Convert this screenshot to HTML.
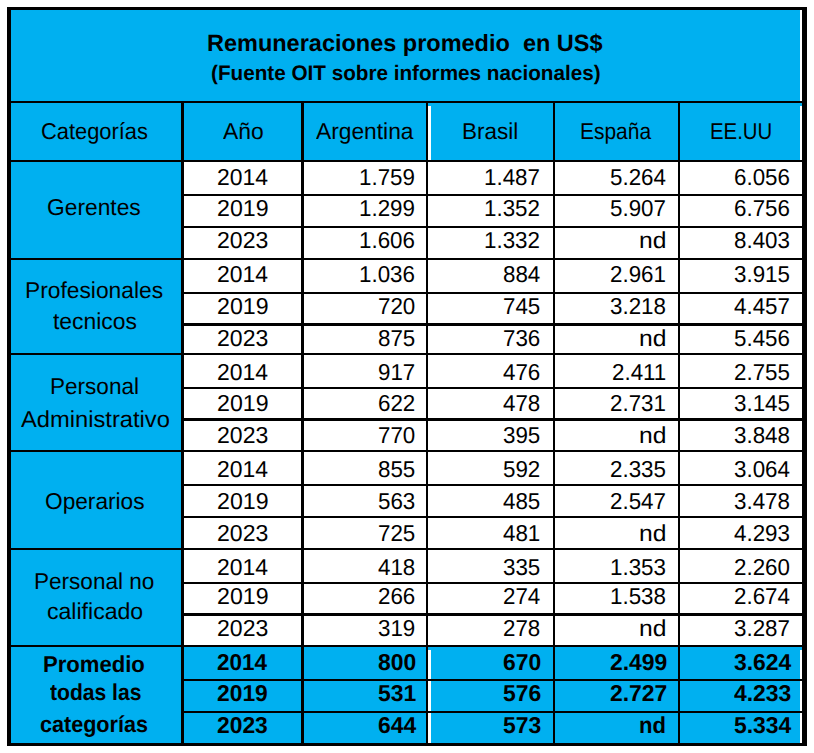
<!DOCTYPE html>
<html lang="es"><head><meta charset="utf-8"><title>Remuneraciones promedio en US$</title>
<style>
html,body{margin:0;padding:0;background:#fff;}
#page{position:relative;width:814px;height:753px;overflow:hidden;background:#fff;font-family:"Liberation Sans",sans-serif;color:#000;}
.r{position:absolute;}
.t{position:absolute;white-space:pre;line-height:30px;transform-origin:0 0;text-rendering:geometricPrecision;}
</style></head><body><div id="page">
<div class="r" style="left:11px;top:10px;width:791px;height:91px;background:#00B0F0"></div>
<div class="r" style="left:800px;top:10px;width:2px;height:91px;background:#fff"></div>
<div class="r" style="left:11px;top:103px;width:791px;height:57px;background:#00B0F0"></div>
<div class="r" style="left:428px;top:106px;width:3px;height:54px;background:#fff"></div>
<div class="r" style="left:800px;top:106px;width:2px;height:54px;background:#fff"></div>
<div class="r" style="left:11px;top:162px;width:170px;height:483px;background:#00B0F0"></div>
<div class="r" style="left:11px;top:647px;width:791px;height:96px;background:#00B0F0"></div>
<div class="r" style="left:428px;top:650px;width:3px;height:93px;background:#fff"></div>
<div class="r" style="left:800px;top:650px;width:2px;height:93px;background:#fff"></div>
<div class="r" style="left:7px;top:7px;width:800px;height:3px;background:#000"></div>
<div class="r" style="left:7px;top:743px;width:800px;height:3px;background:#000"></div>
<div class="r" style="left:7px;top:7px;width:4px;height:739px;background:#000"></div>
<div class="r" style="left:802px;top:7px;width:5px;height:739px;background:#000"></div>
<div class="r" style="left:11px;top:101px;width:791px;height:2px;background:#000"></div>
<div class="r" style="left:11px;top:160px;width:791px;height:2px;background:#000"></div>
<div class="r" style="left:11px;top:258px;width:791px;height:2px;background:#000"></div>
<div class="r" style="left:11px;top:353px;width:791px;height:2px;background:#000"></div>
<div class="r" style="left:11px;top:450px;width:791px;height:2px;background:#000"></div>
<div class="r" style="left:11px;top:548px;width:791px;height:2px;background:#000"></div>
<div class="r" style="left:11px;top:645px;width:791px;height:2px;background:#000"></div>
<div class="r" style="left:181px;top:194px;width:621px;height:2px;background:#000"></div>
<div class="r" style="left:181px;top:226px;width:621px;height:2px;background:#000"></div>
<div class="r" style="left:181px;top:292px;width:621px;height:2px;background:#000"></div>
<div class="r" style="left:181px;top:323px;width:621px;height:3px;background:#000"></div>
<div class="r" style="left:181px;top:387px;width:621px;height:2px;background:#000"></div>
<div class="r" style="left:181px;top:418px;width:621px;height:3px;background:#000"></div>
<div class="r" style="left:181px;top:484px;width:621px;height:2px;background:#000"></div>
<div class="r" style="left:181px;top:516px;width:621px;height:2px;background:#000"></div>
<div class="r" style="left:181px;top:582px;width:621px;height:2px;background:#000"></div>
<div class="r" style="left:181px;top:613px;width:621px;height:3px;background:#000"></div>
<div class="r" style="left:181px;top:679px;width:621px;height:2px;background:#000"></div>
<div class="r" style="left:181px;top:711px;width:621px;height:2px;background:#000"></div>
<div class="r" style="left:181px;top:103px;width:3px;height:640px;background:#000"></div>
<div class="r" style="left:301px;top:103px;width:3px;height:640px;background:#000"></div>
<div class="r" style="left:426px;top:103px;width:2px;height:640px;background:#000"></div>
<div class="r" style="left:553px;top:103px;width:2px;height:640px;background:#000"></div>
<div class="r" style="left:678px;top:103px;width:2px;height:640px;background:#000"></div>
<div class="r" style="left:428px;top:106px;width:3px;height:54px;background:#fff"></div>
<div class="r" style="left:800px;top:106px;width:2px;height:54px;background:#fff"></div>
<div class="r" style="left:11px;top:162px;width:170px;height:483px;background:#00B0F0"></div>
<div class="r" style="left:11px;top:647px;width:791px;height:96px;background:#00B0F0"></div>
<div class="r" style="left:428px;top:650px;width:3px;height:93px;background:#fff"></div>
<div class="r" style="left:800px;top:650px;width:2px;height:93px;background:#fff"></div>
<div class="r" style="left:7px;top:7px;width:800px;height:3px;background:#000"></div>
<div class="r" style="left:7px;top:743px;width:800px;height:3px;background:#000"></div>
<div class="r" style="left:7px;top:7px;width:4px;height:739px;background:#000"></div>
<div class="r" style="left:802px;top:7px;width:5px;height:739px;background:#000"></div>
<div class="r" style="left:11px;top:101px;width:791px;height:2px;background:#000"></div>
<div class="r" style="left:11px;top:160px;width:791px;height:2px;background:#000"></div>
<div class="r" style="left:11px;top:258px;width:791px;height:2px;background:#000"></div>
<div class="r" style="left:11px;top:353px;width:791px;height:2px;background:#000"></div>
<div class="r" style="left:11px;top:450px;width:791px;height:2px;background:#000"></div>
<div class="r" style="left:11px;top:548px;width:791px;height:2px;background:#000"></div>
<div class="r" style="left:11px;top:645px;width:791px;height:2px;background:#000"></div>
<div class="r" style="left:181px;top:194px;width:621px;height:2px;background:#000"></div>
<div class="r" style="left:181px;top:226px;width:621px;height:2px;background:#000"></div>
<div class="r" style="left:181px;top:292px;width:621px;height:2px;background:#000"></div>
<div class="r" style="left:181px;top:323px;width:621px;height:3px;background:#000"></div>
<div class="r" style="left:181px;top:387px;width:621px;height:2px;background:#000"></div>
<div class="r" style="left:181px;top:418px;width:621px;height:3px;background:#000"></div>
<div class="r" style="left:181px;top:484px;width:621px;height:2px;background:#000"></div>
<div class="r" style="left:181px;top:516px;width:621px;height:2px;background:#000"></div>
<div class="r" style="left:181px;top:582px;width:621px;height:2px;background:#000"></div>
<div class="r" style="left:181px;top:613px;width:621px;height:3px;background:#000"></div>
<div class="r" style="left:181px;top:679px;width:621px;height:2px;background:#000"></div>
<div class="r" style="left:181px;top:711px;width:621px;height:2px;background:#000"></div>
<div class="r" style="left:181px;top:103px;width:3px;height:640px;background:#000"></div>
<div class="r" style="left:301px;top:103px;width:3px;height:640px;background:#000"></div>
<div class="r" style="left:426px;top:103px;width:2px;height:640px;background:#000"></div>
<div class="r" style="left:553px;top:103px;width:2px;height:640px;background:#000"></div>
<div class="r" style="left:678px;top:103px;width:2px;height:640px;background:#000"></div>
<span class="t" style="left:206.90px;top:27.50px;font-size:23.5px;transform:scale(0.9996,1.0000);font-weight:bold;">Remuneraciones promedio  en US$</span>
<span class="t" style="left:211.22px;top:58.80px;font-size:21px;transform:scale(0.9848,1.0000);font-weight:bold;">(Fuente OIT sobre informes nacionales)</span>
<span class="t" style="left:40.81px;top:115.70px;font-size:23px;transform:scale(0.9502,1.0000);">Categorías</span>
<span class="t" style="left:222.60px;top:115.70px;font-size:23px;transform:scale(0.9925,1.0000);">Año</span>
<span class="t" style="left:316.40px;top:115.70px;font-size:23px;transform:scale(0.9898,1.0000);">Argentina</span>
<span class="t" style="left:461.54px;top:115.70px;font-size:23px;transform:scale(0.9778,1.0000);">Brasil</span>
<span class="t" style="left:579.78px;top:115.70px;font-size:23px;transform:scale(0.9105,1.0000);">España</span>
<span class="t" style="left:709.83px;top:115.70px;font-size:23px;transform:scale(0.8857,1.0000);">EE.UU</span>
<span class="t" style="left:47.26px;top:192.20px;font-size:23px;transform:scale(0.9903,1.0000);">Gerentes</span>
<span class="t" style="left:24.72px;top:274.50px;font-size:23px;transform:scale(0.9905,1.0000);">Profesionales</span>
<span class="t" style="left:53.05px;top:306.10px;font-size:23px;transform:scale(0.9946,1.0000);">tecnicos</span>
<span class="t" style="left:50.04px;top:371.30px;font-size:23px;transform:scale(0.9799,1.0000);">Personal</span>
<span class="t" style="left:20.60px;top:403.50px;font-size:23px;transform:scale(1.0307,1.0000);">Administrativo</span>
<span class="t" style="left:44.81px;top:485.50px;font-size:23px;transform:scale(0.9854,1.0000);">Operarios</span>
<span class="t" style="left:34.04px;top:566.30px;font-size:23px;transform:scale(0.9804,1.0000);">Personal no</span>
<span class="t" style="left:46.70px;top:596.30px;font-size:23px;transform:scale(1.0032,1.0000);">calificado</span>
<span class="t" style="left:43.06px;top:648.70px;font-size:23px;transform:scale(0.9600,1.0000);font-weight:bold;">Promedio</span>
<span class="t" style="left:49.57px;top:677.30px;font-size:23px;transform:scale(0.9168,1.0000);font-weight:bold;">todas las</span>
<span class="t" style="left:40.36px;top:709.20px;font-size:23px;transform:scale(0.9381,1.0000);font-weight:bold;">categorías</span>
<span class="t" style="left:216.75px;top:161.80px;font-size:23px;transform:scale(0.9970,1.0000);">2014</span>
<span class="t" style="left:359.47px;top:161.80px;font-size:23px;transform:scale(0.9717,1.0000);">1.759</span>
<span class="t" style="left:484.47px;top:161.80px;font-size:23px;transform:scale(0.9717,1.0000);">1.487</span>
<span class="t" style="left:610.47px;top:161.80px;font-size:23px;transform:scale(0.9717,1.0000);">5.264</span>
<span class="t" style="left:734.47px;top:161.80px;font-size:23px;transform:scale(0.9717,1.0000);">6.056</span>
<span class="t" style="left:216.74px;top:193.00px;font-size:23px;transform:scale(1.0072,1.0000);">2019</span>
<span class="t" style="left:359.47px;top:193.00px;font-size:23px;transform:scale(0.9717,1.0000);">1.299</span>
<span class="t" style="left:484.47px;top:193.00px;font-size:23px;transform:scale(0.9717,1.0000);">1.352</span>
<span class="t" style="left:610.47px;top:193.00px;font-size:23px;transform:scale(0.9717,1.0000);">5.907</span>
<span class="t" style="left:734.47px;top:193.00px;font-size:23px;transform:scale(0.9717,1.0000);">6.756</span>
<span class="t" style="left:216.75px;top:224.90px;font-size:23px;transform:scale(1.0020,1.0000);">2023</span>
<span class="t" style="left:359.47px;top:224.90px;font-size:23px;transform:scale(0.9717,1.0000);">1.606</span>
<span class="t" style="left:484.47px;top:224.90px;font-size:23px;transform:scale(0.9717,1.0000);">1.332</span>
<span class="t" style="left:639.19px;top:224.90px;font-size:23px;transform:scale(1.0711,1.0000);">nd</span>
<span class="t" style="left:734.47px;top:224.90px;font-size:23px;transform:scale(0.9717,1.0000);">8.403</span>
<span class="t" style="left:216.75px;top:258.90px;font-size:23px;transform:scale(0.9970,1.0000);">2014</span>
<span class="t" style="left:359.47px;top:258.90px;font-size:23px;transform:scale(0.9717,1.0000);">1.036</span>
<span class="t" style="left:503.11px;top:258.90px;font-size:23px;transform:scale(0.9717,1.0000);">884</span>
<span class="t" style="left:610.47px;top:258.90px;font-size:23px;transform:scale(0.9717,1.0000);">2.961</span>
<span class="t" style="left:734.47px;top:258.90px;font-size:23px;transform:scale(0.9717,1.0000);">3.915</span>
<span class="t" style="left:216.74px;top:290.80px;font-size:23px;transform:scale(1.0072,1.0000);">2019</span>
<span class="t" style="left:378.11px;top:290.80px;font-size:23px;transform:scale(0.9717,1.0000);">720</span>
<span class="t" style="left:503.11px;top:290.80px;font-size:23px;transform:scale(0.9717,1.0000);">745</span>
<span class="t" style="left:610.47px;top:290.80px;font-size:23px;transform:scale(0.9717,1.0000);">3.218</span>
<span class="t" style="left:734.47px;top:290.80px;font-size:23px;transform:scale(0.9717,1.0000);">4.457</span>
<span class="t" style="left:216.75px;top:323.00px;font-size:23px;transform:scale(1.0020,1.0000);">2023</span>
<span class="t" style="left:378.11px;top:323.00px;font-size:23px;transform:scale(0.9717,1.0000);">875</span>
<span class="t" style="left:503.11px;top:323.00px;font-size:23px;transform:scale(0.9717,1.0000);">736</span>
<span class="t" style="left:639.19px;top:323.00px;font-size:23px;transform:scale(1.0711,1.0000);">nd</span>
<span class="t" style="left:734.47px;top:323.00px;font-size:23px;transform:scale(0.9717,1.0000);">5.456</span>
<span class="t" style="left:216.75px;top:356.60px;font-size:23px;transform:scale(0.9970,1.0000);">2014</span>
<span class="t" style="left:378.11px;top:356.60px;font-size:23px;transform:scale(0.9717,1.0000);">917</span>
<span class="t" style="left:503.11px;top:356.60px;font-size:23px;transform:scale(0.9717,1.0000);">476</span>
<span class="t" style="left:612.12px;top:356.60px;font-size:23px;transform:scale(0.9717,1.0000);">2.411</span>
<span class="t" style="left:734.47px;top:356.60px;font-size:23px;transform:scale(0.9717,1.0000);">2.755</span>
<span class="t" style="left:216.74px;top:387.80px;font-size:23px;transform:scale(1.0072,1.0000);">2019</span>
<span class="t" style="left:378.11px;top:387.80px;font-size:23px;transform:scale(0.9717,1.0000);">622</span>
<span class="t" style="left:503.11px;top:387.80px;font-size:23px;transform:scale(0.9717,1.0000);">478</span>
<span class="t" style="left:610.47px;top:387.80px;font-size:23px;transform:scale(0.9717,1.0000);">2.731</span>
<span class="t" style="left:734.47px;top:387.80px;font-size:23px;transform:scale(0.9717,1.0000);">3.145</span>
<span class="t" style="left:216.75px;top:419.70px;font-size:23px;transform:scale(1.0020,1.0000);">2023</span>
<span class="t" style="left:378.11px;top:419.70px;font-size:23px;transform:scale(0.9717,1.0000);">770</span>
<span class="t" style="left:503.11px;top:419.70px;font-size:23px;transform:scale(0.9717,1.0000);">395</span>
<span class="t" style="left:639.19px;top:419.70px;font-size:23px;transform:scale(1.0711,1.0000);">nd</span>
<span class="t" style="left:734.47px;top:419.70px;font-size:23px;transform:scale(0.9717,1.0000);">3.848</span>
<span class="t" style="left:216.75px;top:453.60px;font-size:23px;transform:scale(0.9970,1.0000);">2014</span>
<span class="t" style="left:378.11px;top:453.60px;font-size:23px;transform:scale(0.9717,1.0000);">855</span>
<span class="t" style="left:503.11px;top:453.60px;font-size:23px;transform:scale(0.9717,1.0000);">592</span>
<span class="t" style="left:610.47px;top:453.60px;font-size:23px;transform:scale(0.9717,1.0000);">2.335</span>
<span class="t" style="left:734.47px;top:453.60px;font-size:23px;transform:scale(0.9717,1.0000);">3.064</span>
<span class="t" style="left:216.74px;top:485.50px;font-size:23px;transform:scale(1.0072,1.0000);">2019</span>
<span class="t" style="left:378.11px;top:485.50px;font-size:23px;transform:scale(0.9717,1.0000);">563</span>
<span class="t" style="left:503.11px;top:485.50px;font-size:23px;transform:scale(0.9717,1.0000);">485</span>
<span class="t" style="left:610.47px;top:485.50px;font-size:23px;transform:scale(0.9717,1.0000);">2.547</span>
<span class="t" style="left:734.47px;top:485.50px;font-size:23px;transform:scale(0.9717,1.0000);">3.478</span>
<span class="t" style="left:216.75px;top:517.80px;font-size:23px;transform:scale(1.0020,1.0000);">2023</span>
<span class="t" style="left:378.11px;top:517.80px;font-size:23px;transform:scale(0.9717,1.0000);">725</span>
<span class="t" style="left:503.11px;top:517.80px;font-size:23px;transform:scale(0.9717,1.0000);">481</span>
<span class="t" style="left:639.19px;top:517.80px;font-size:23px;transform:scale(1.0711,1.0000);">nd</span>
<span class="t" style="left:734.47px;top:517.80px;font-size:23px;transform:scale(0.9717,1.0000);">4.293</span>
<span class="t" style="left:216.75px;top:551.60px;font-size:23px;transform:scale(0.9970,1.0000);">2014</span>
<span class="t" style="left:378.11px;top:551.60px;font-size:23px;transform:scale(0.9717,1.0000);">418</span>
<span class="t" style="left:503.11px;top:551.60px;font-size:23px;transform:scale(0.9717,1.0000);">335</span>
<span class="t" style="left:610.47px;top:551.60px;font-size:23px;transform:scale(0.9717,1.0000);">1.353</span>
<span class="t" style="left:734.47px;top:551.60px;font-size:23px;transform:scale(0.9717,1.0000);">2.260</span>
<span class="t" style="left:216.74px;top:580.80px;font-size:23px;transform:scale(1.0072,1.0000);">2019</span>
<span class="t" style="left:378.11px;top:580.80px;font-size:23px;transform:scale(0.9717,1.0000);">266</span>
<span class="t" style="left:503.11px;top:580.80px;font-size:23px;transform:scale(0.9717,1.0000);">274</span>
<span class="t" style="left:610.47px;top:580.80px;font-size:23px;transform:scale(0.9717,1.0000);">1.538</span>
<span class="t" style="left:734.47px;top:580.80px;font-size:23px;transform:scale(0.9717,1.0000);">2.674</span>
<span class="t" style="left:216.75px;top:613.00px;font-size:23px;transform:scale(1.0020,1.0000);">2023</span>
<span class="t" style="left:378.11px;top:613.00px;font-size:23px;transform:scale(0.9717,1.0000);">319</span>
<span class="t" style="left:503.11px;top:613.00px;font-size:23px;transform:scale(0.9717,1.0000);">278</span>
<span class="t" style="left:639.19px;top:613.00px;font-size:23px;transform:scale(1.0711,1.0000);">nd</span>
<span class="t" style="left:734.47px;top:613.00px;font-size:23px;transform:scale(0.9717,1.0000);">3.287</span>
<span class="t" style="left:217.27px;top:646.90px;font-size:23px;transform:scale(0.9771,1.0000);font-weight:bold;">2014</span>
<span class="t" style="left:377.88px;top:646.90px;font-size:23px;transform:scale(0.9960,1.0000);font-weight:bold;">800</span>
<span class="t" style="left:502.88px;top:646.90px;font-size:23px;transform:scale(0.9960,1.0000);font-weight:bold;">670</span>
<span class="t" style="left:609.77px;top:646.90px;font-size:23px;transform:scale(0.9960,1.0000);font-weight:bold;">2.499</span>
<span class="t" style="left:733.77px;top:646.90px;font-size:23px;transform:scale(0.9960,1.0000);font-weight:bold;">3.624</span>
<span class="t" style="left:217.26px;top:677.50px;font-size:23px;transform:scale(0.9919,1.0000);font-weight:bold;">2019</span>
<span class="t" style="left:377.88px;top:677.50px;font-size:23px;transform:scale(0.9960,1.0000);font-weight:bold;">531</span>
<span class="t" style="left:502.88px;top:677.50px;font-size:23px;transform:scale(0.9960,1.0000);font-weight:bold;">576</span>
<span class="t" style="left:609.77px;top:677.50px;font-size:23px;transform:scale(0.9960,1.0000);font-weight:bold;">2.727</span>
<span class="t" style="left:733.77px;top:677.50px;font-size:23px;transform:scale(0.9960,1.0000);font-weight:bold;">4.233</span>
<span class="t" style="left:217.26px;top:710.00px;font-size:23px;transform:scale(0.9919,1.0000);font-weight:bold;">2023</span>
<span class="t" style="left:377.88px;top:710.00px;font-size:23px;transform:scale(0.9960,1.0000);font-weight:bold;">644</span>
<span class="t" style="left:502.88px;top:710.00px;font-size:23px;transform:scale(0.9960,1.0000);font-weight:bold;">573</span>
<span class="t" style="left:639.07px;top:710.00px;font-size:23px;transform:scale(0.9560,1.0000);font-weight:bold;">nd</span>
<span class="t" style="left:733.77px;top:710.00px;font-size:23px;transform:scale(0.9960,1.0000);font-weight:bold;">5.334</span>
</div></body></html>
